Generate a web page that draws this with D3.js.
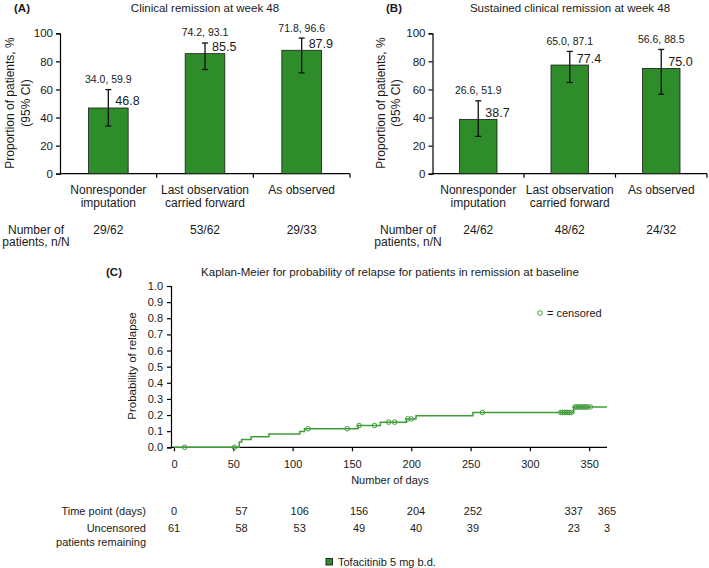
<!DOCTYPE html>
<html><head><meta charset="utf-8">
<script src="https://cdn.jsdelivr.net/npm/d3@7"></script>
<style>
body{margin:0;background:#fff;}
svg{font-family:"Liberation Sans",Arial,Helvetica,sans-serif;}
</style></head>
<body>
<svg id="chart" width="709" height="568"></svg>
<script>
// ---------- data ----------
const categories = ["Nonresponder imputation", "Last observation carried forward", "As observed"];
const categoryLines = [["Nonresponder", "imputation"], ["Last observation", "carried forward"], ["As observed"]];
const yTicksBar = [0, 20, 40, 60, 80, 100];

const valuesA = [46.8, 85.5, 87.9];
const ciLowA = [34.0, 74.2, 71.8];
const ciHighA = [59.9, 93.1, 96.6];
const countsA = ["29/62", "53/62", "29/33"];

const valuesB = [38.7, 77.4, 75.0];
const ciLowB = [26.6, 65.0, 56.6];
const ciHighB = [51.9, 87.1, 88.5];
const countsB = ["24/62", "48/62", "24/32"];

const kmEventDays = [0, 55, 57, 65, 80, 106, 110, 155, 174, 196, 204, 252, 337];
const kmCumProb = [0, 0.033, 0.049, 0.066, 0.082, 0.098, 0.115, 0.135, 0.156, 0.176, 0.195, 0.216, 0.25];
const kmEndDay = 365;
const censorDays = [9, 51, 113, 146, 156, 169, 181, 186, 197, 200, 260,
  326, 327.5, 329, 330.5, 332, 333.5, 335, 338, 339.5, 341, 342.5, 344, 345.5, 347, 348.5, 351];
const kmXTicks = [0, 50, 100, 150, 200, 250, 300, 350];
const kmYTicks = [0, 0.1, 0.2, 0.3, 0.4, 0.5, 0.6, 0.7, 0.8, 0.9, 1.0];
const timePoints = [0, 57, 106, 156, 204, 252, 337, 365];
const remaining = [61, 58, 53, 49, 40, 39, 23, 3];

// ---------- style ----------
const BAR_GREEN = "#2f8c2a";
const LINE_GREEN = "#3f9e3a";
const TXT = "#1a1a1a";

const svg = d3.select("#chart");

function barPanel(opt) {
  const g = svg.append("g");
  const y = d3.scaleLinear().domain([0, 100]).range([173.7, 33.3]);
  const x = d3.scaleBand().domain(categories).range([opt.x0, opt.x1])
    .paddingInner(0.59).paddingOuter(0.295);

  g.append("text").attr("x", opt.letterX).attr("y", 11.5).attr("font-size", 11.5)
    .attr("font-weight", "bold").attr("fill", TXT).text(opt.letter);
  g.append("text").attr("x", opt.titleX).attr("y", 11.5).attr("font-size", 11.5)
    .attr("text-anchor", "middle").attr("fill", TXT).text(opt.title);

  const ya = g.append("g").attr("transform", `translate(${opt.x0},0)`)
    .call(d3.axisLeft(y).tickValues(yTicksBar).tickSize(4).tickPadding(3));
  ya.select(".domain").attr("stroke", "#000").attr("stroke-width", 1.2);
  ya.selectAll(".tick line").attr("stroke", "#000").attr("stroke-width", 1.2);
  ya.selectAll("text").attr("font-size", 11.5).attr("fill", TXT)
    .attr("font-family", "Liberation Sans, Arial, sans-serif");

  g.append("line").attr("x1", opt.x0).attr("x2", opt.x1).attr("y1", y(0)).attr("y2", y(0))
    .attr("stroke", "#000").attr("stroke-width", 1.2);
  const step = x.step();
  [1, 2, 3].forEach(i => {
    const xx = opt.x0 + i * step;
    g.append("line").attr("x1", xx).attr("x2", xx).attr("y1", y(0)).attr("y2", y(0) + 4)
      .attr("stroke", "#000").attr("stroke-width", 1.2);
  });

  const yl = g.append("text").attr("transform", `translate(${opt.ylx},103) rotate(-90)`)
    .attr("text-anchor", "middle").attr("font-size", 12).attr("fill", TXT);
  yl.append("tspan").attr("x", 0).attr("dy", 0).text("Proportion of patients, %");
  yl.append("tspan").attr("x", 0).attr("dy", opt.ylGap).text("(95% CI)");

  g.selectAll("rect.bar").data(opt.values).join("rect").attr("class", "bar")
    .attr("x", (d, i) => x(categories[i])).attr("width", x.bandwidth())
    .attr("y", d => y(d)).attr("height", d => y(0) - y(d))
    .attr("fill", BAR_GREEN).attr("stroke", "#1b1b1b").attr("stroke-width", 0.8);

  opt.values.forEach((v, i) => {
    const cx = x(categories[i]) + x.bandwidth() / 2;
    const lo = y(opt.lo[i]), hi = y(opt.hi[i]);
    g.append("line").attr("x1", cx).attr("x2", cx).attr("y1", lo).attr("y2", hi)
      .attr("stroke", "#111").attr("stroke-width", 1.3);
    [lo, hi].forEach(yy => g.append("line").attr("x1", cx - 3).attr("x2", cx + 3)
      .attr("y1", yy).attr("y2", yy).attr("stroke", "#111").attr("stroke-width", 1.3));
    g.append("text").attr("x", cx + 7).attr("y", y(v) - 2.5).attr("font-size", 12.5)
      .attr("fill", TXT).text(v.toFixed(1));
    g.append("text").attr("x", cx).attr("y", hi - 6.5).attr("font-size", 10.5)
      .attr("text-anchor", "middle").attr("fill", TXT)
      .text(opt.lo[i].toFixed(1) + ", " + opt.hi[i].toFixed(1));
    const t = g.append("text").attr("x", cx).attr("y", 193.5).attr("font-size", 12)
      .attr("text-anchor", "middle").attr("fill", TXT);
    categoryLines[i].forEach((s, k) => t.append("tspan").attr("x", cx).attr("dy", k ? 13.5 : 0).text(s));
    g.append("text").attr("x", cx).attr("y", 233.5).attr("font-size", 12)
      .attr("text-anchor", "middle").attr("fill", TXT).text(opt.counts[i]);
  });
  const nl = g.append("text").attr("x", opt.nX).attr("y", 233.5).attr("font-size", 12)
    .attr("text-anchor", "middle").attr("fill", TXT);
  nl.append("tspan").attr("x", opt.nX).attr("dy", 0).text("Number of");
  nl.append("tspan").attr("x", opt.nX).attr("dy", 12.5).text("patients, n/N");
}

barPanel({letter: "(A)", letterX: 14, title: "Clinical remission at week 48", titleX: 205,
  x0: 60, x1: 350, ylx: 14, ylGap: 16, values: valuesA, lo: ciLowA, hi: ciHighA, counts: countsA, nX: 36});
barPanel({letter: "(B)", letterX: 386, title: "Sustained clinical remission at week 48", titleX: 570,
  x0: 432.5, x1: 707, ylx: 385, ylGap: 15, values: valuesB, lo: ciLowB, hi: ciHighB, counts: countsB, nX: 408});

// ---------- Kaplan-Meier panel ----------
const kx = d3.scaleLinear().domain([0, 365]).range([174, 607]);
const ky = d3.scaleLinear().domain([0, 1]).range([447.3, 286]);
const gk = svg.append("g");

gk.append("text").attr("x", 106).attr("y", 276).attr("font-size", 11.5).attr("font-weight", "bold")
  .attr("fill", TXT).text("(C)");
gk.append("text").attr("x", 390).attr("y", 276).attr("font-size", 11.5).attr("text-anchor", "middle")
  .attr("fill", TXT).text("Kaplan-Meier for probability of relapse for patients in remission at baseline");

const kya = gk.append("g").attr("transform", "translate(171,0)")
  .call(d3.axisLeft(ky).tickValues(kmYTicks).tickFormat(d3.format(".1f")).tickSize(4).tickPadding(4));
kya.select(".domain").attr("stroke", "#000").attr("stroke-width", 1.2);
kya.selectAll(".tick line").attr("stroke", "#000").attr("stroke-width", 1.2);
kya.selectAll("text").attr("font-size", 11).attr("fill", TXT)
  .attr("font-family", "Liberation Sans, Arial, sans-serif");

const kxa = gk.append("g").attr("transform", "translate(0,447.3)")
  .call(d3.axisBottom(kx).tickValues(kmXTicks).tickSize(4).tickPadding(8.5));
kxa.select(".domain").attr("d", "M171,0H607").attr("stroke", "#000").attr("stroke-width", 1.2);
kxa.selectAll(".tick line").attr("stroke", "#000").attr("stroke-width", 1.2);
kxa.selectAll("text").attr("font-size", 11).attr("fill", TXT)
  .attr("font-family", "Liberation Sans, Arial, sans-serif");

gk.append("text").attr("x", 390).attr("y", 484).attr("font-size", 11).attr("text-anchor", "middle")
  .attr("fill", TXT).text("Number of days");
gk.append("text").attr("transform", "translate(136,366) rotate(-90)").attr("text-anchor", "middle")
  .attr("font-size", 11.5).attr("fill", TXT).text("Probability of relapse");

const stepPts = kmEventDays.map((d, i) => [d, kmCumProb[i]]);
stepPts.push([kmEndDay, kmCumProb[kmCumProb.length - 1]]);
gk.append("path").attr("d", d3.line().x(d => kx(d[0])).y(d => ky(d[1])).curve(d3.curveStepAfter)(stepPts))
  .attr("fill", "none").attr("stroke", LINE_GREEN).attr("stroke-width", 1.5);

function probAt(t) {
  let p = 0;
  kmEventDays.forEach((d, i) => { if (d <= t) p = kmCumProb[i]; });
  return p;
}
gk.selectAll("circle.cens").data(censorDays).join("circle").attr("class", "cens")
  .attr("cx", d => kx(d)).attr("cy", d => ky(probAt(d))).attr("r", 2.3)
  .attr("fill", "none").attr("stroke", LINE_GREEN).attr("stroke-width", 1);

gk.append("circle").attr("cx", 540).attr("cy", 313).attr("r", 2.3).attr("fill", "none")
  .attr("stroke", LINE_GREEN).attr("stroke-width", 1);
gk.append("text").attr("x", 547).attr("y", 317).attr("font-size", 11).attr("fill", TXT).text("= censored");

gk.append("text").attr("x", 146).attr("y", 515).attr("font-size", 11).attr("text-anchor", "end")
  .attr("fill", TXT).text("Time point (days)");
const ul = gk.append("text").attr("x", 146).attr("y", 532).attr("font-size", 11).attr("text-anchor", "end")
  .attr("fill", TXT);
ul.append("tspan").attr("x", 146).attr("dy", 0).text("Uncensored");
ul.append("tspan").attr("x", 146).attr("dy", 13.5).text("patients remaining");
timePoints.forEach((t, i) => {
  gk.append("text").attr("x", kx(t)).attr("y", 515).attr("font-size", 11).attr("text-anchor", "middle")
    .attr("fill", TXT).text(t);
  gk.append("text").attr("x", kx(t)).attr("y", 532).attr("font-size", 11).attr("text-anchor", "middle")
    .attr("fill", TXT).text(remaining[i]);
});

gk.append("rect").attr("x", 326).attr("y", 558.5).attr("width", 6.5).attr("height", 6.5)
  .attr("fill", BAR_GREEN).attr("stroke", "#1b1b1b").attr("stroke-width", 0.9);
gk.append("text").attr("x", 338).attr("y", 565.5).attr("font-size", 11).attr("fill", TXT)
  .text("Tofacitinib 5 mg b.d.");
</script>
</body></html>
